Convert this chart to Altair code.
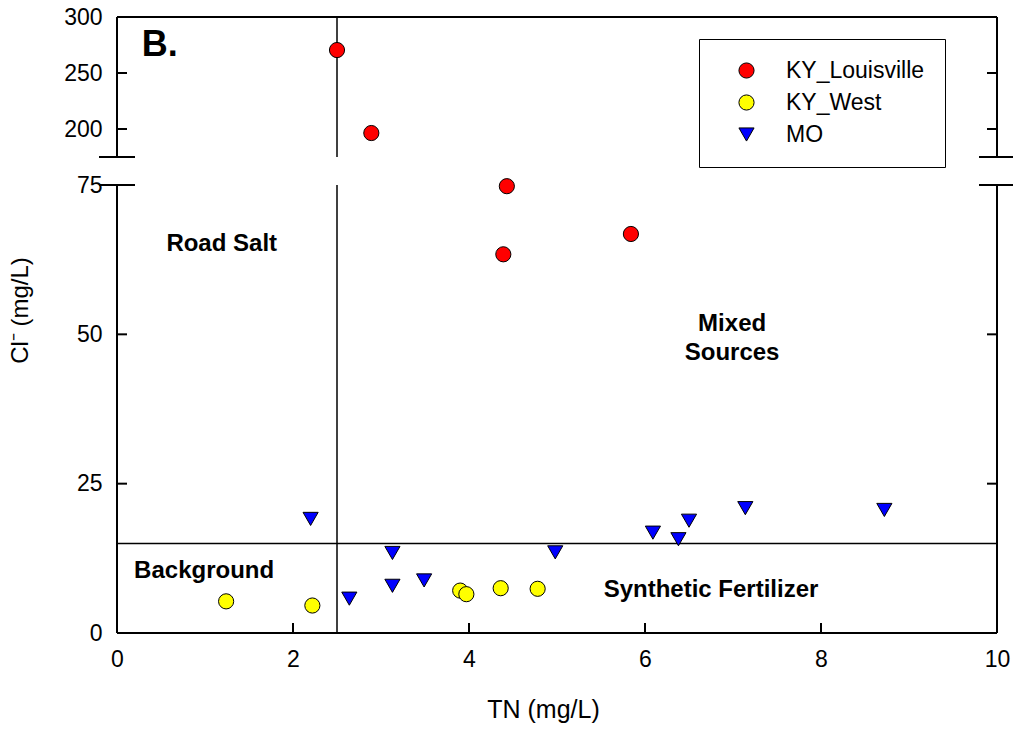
import altair as alt
import pandas as pd

# --- series -------------------------------------------------------------
sites = ["KY_Louisville", "KY_West", "MO"]
site_fill = ["#ff0000", "#ffff00", "#0000ff"]
site_shape = ["circle", "circle", "triangle-down"]

louisville_tn = [2.50, 2.89, 4.43, 4.39, 5.84]
louisville_cl = [270.5, 196.4, 74.8, 63.4, 66.8]

west_tn = [1.24, 2.22, 3.90, 3.97, 4.36, 4.78]
west_cl = [5.3, 4.6, 7.1, 6.5, 7.5, 7.4]

mo_tn = [2.20, 3.13, 3.13, 3.49, 2.64, 4.98, 6.09, 6.38, 6.50, 7.14, 8.72]
mo_cl = [19.1, 13.4, 7.9, 8.8, 5.75, 13.5, 16.8, 15.7, 18.8, 20.9, 20.6]

# --- axes ---------------------------------------------------------------
x_ticks = [0, 2, 4, 6, 8, 10]
y_ticks = [0, 25, 50, 75, 200, 250, 300]
y_inner_ticks = [25, 50, 200, 250]
x_inner_ticks = [2, 4, 6, 8]
# broken y axis: lower segment 0-75, upper segment 175-300
y_break_low, y_break_high = 75, 175

# threshold lines separating the source quadrants
tn_threshold = 2.5
cl_threshold = 15

# --- annotations ----------------------------------------------------------
region_text = ["Road Salt", ["Mixed", "Sources"], "Background", "Synthetic Fertilizer"]
region_tn = [1.19, 6.99, 0.99, 6.75]
region_cl = [65.1, 51.8, 10.4, 7.2]
panel_tag = "B."
panel_tag_tn = 0.28
panel_tag_cl = 275

FONT = "Liberation Sans"

rows = []
for name, tns, cls in [("KY_Louisville", louisville_tn, louisville_cl),
                       ("KY_West", west_tn, west_cl),
                       ("MO", mo_tn, mo_cl)]:
    for t, c in zip(tns, cls):
        rows.append({"site": name, "tn": t, "cl": c})
points_df = pd.DataFrame(rows)

x_scale = alt.Scale(domain=[0, 10], nice=False, zero=False)
y_scale = alt.Scale(domain=[0, y_break_low, y_break_high, 300],
                    range=[616, 168, 140, 0], nice=False, zero=False)

x_axis = alt.Axis(values=x_ticks, ticks=False, domain=False, grid=False,
                  labelFlush=False, title="TN (mg/L)", labelPadding=15,
                  titlePadding=26, titleX=426, labelFontSize=23,
                  titleFontSize=25, labelFont=FONT, titleFont=FONT,
                  labelColor="black", titleColor="black",
                  titleFontWeight="normal")
y_axis = alt.Axis(values=y_ticks, ticks=False, domain=False, grid=False,
                  labelFlush=False, title="Cl⁻ (mg/L)", labelPadding=15,
                  titlePadding=31, titleY=293, labelFontSize=23,
                  titleFontSize=24, labelFont=FONT, titleFont=FONT,
                  labelColor="black", titleColor="black",
                  titleFontWeight="normal")


def X(field):
    return alt.X(field, type="quantitative", scale=x_scale, axis=x_axis)


def Y(field):
    return alt.Y(field, type="quantitative", scale=y_scale, axis=y_axis)


# frame, broken at the axis gap, plus the two threshold lines
frame_df = pd.DataFrame({
    "x1": [0, 0, 10, 10, 0, 0],
    "x2": [0, 0, 10, 10, 10, 10],
    "y1": [0, y_break_high, 0, y_break_high, 0, 300],
    "y2": [y_break_low, 300, y_break_low, 300, 0, 300],
})
threshold_df = pd.DataFrame({
    "x1": [tn_threshold, tn_threshold, 0],
    "x2": [tn_threshold, tn_threshold, 10],
    "y1": [0, y_break_high, cl_threshold],
    "y2": [y_break_low, 300, cl_threshold],
})

frame = alt.Chart(frame_df).mark_rule(color="black", strokeWidth=2).encode(
    x=X("x1"), x2="x2", y=Y("y1"), y2="y2")
thresholds = alt.Chart(threshold_df).mark_rule(color="black", strokeWidth=1.5).encode(
    x=X("x1"), x2="x2", y=Y("y1"), y2="y2")

break_df = pd.DataFrame({"bx": [0, 0, 10, 10],
                         "by": [y_break_low, y_break_high, y_break_low, y_break_high]})
breaks = alt.Chart(break_df).mark_tick(orient="horizontal", size=36, thickness=2,
                                       color="black", opacity=1).encode(
    x=X("bx"), y=Y("by"))

left_df = pd.DataFrame({"tx": [0] * len(y_inner_ticks), "ty": y_inner_ticks})
right_df = pd.DataFrame({"tx": [10] * len(y_inner_ticks), "ty": y_inner_ticks})
bottom_df = pd.DataFrame({"tx": x_inner_ticks, "ty": [0] * len(x_inner_ticks)})

left_ticks = alt.Chart(left_df).mark_tick(orient="horizontal", size=10, thickness=2,
                                          xOffset=5, color="black", opacity=1).encode(
    x=X("tx"), y=Y("ty"))
right_ticks = alt.Chart(right_df).mark_tick(orient="horizontal", size=10, thickness=2,
                                            xOffset=-5, color="black", opacity=1).encode(
    x=X("tx"), y=Y("ty"))
bottom_ticks = alt.Chart(bottom_df).mark_tick(orient="vertical", size=10, thickness=2,
                                              yOffset=-5, color="black", opacity=1).encode(
    x=X("tx"), y=Y("ty"))

legend = alt.Legend(orient="none", legendX=582, legendY=22, padding=20,
                    symbolOffset=16, labelOffset=28, rowPadding=8,
                    strokeColor="black", labelFont=FONT, labelFontSize=23,
                    labelColor="black", symbolSize=230,
                    symbolStrokeWidth=1, symbolOpacity=1, labelLimit=300)

# outlined, filled symbols; the constant stroke channel carries the black
# outline into the legend entries as well
points = alt.Chart(points_df).mark_point(filled=True, strokeWidth=1, opacity=1,
                                         size=230).encode(
    x=X("tn"), y=Y("cl"),
    fill=alt.Fill("site:N", scale=alt.Scale(domain=sites, range=site_fill),
                  legend=legend, title=None),
    shape=alt.Shape("site:N", scale=alt.Scale(domain=sites, range=site_shape),
                    legend=legend, title=None),
    stroke=alt.value("black"),
)

region_df = pd.DataFrame({"label": region_text, "tn": region_tn, "cl": region_cl})
regions = alt.Chart(region_df).mark_text(font=FONT, fontSize=24, fontWeight="bold",
                                         color="black", lineHeight=29).encode(
    x=X("tn"), y=Y("cl"), text="label")

tag_df = pd.DataFrame({"label": [panel_tag], "tn": [panel_tag_tn], "cl": [panel_tag_cl]})
tag = alt.Chart(tag_df).mark_text(font=FONT, fontSize=36, fontWeight="bold",
                                  color="black", align="left").encode(
    x=X("tn"), y=Y("cl"), text="label")

chart = alt.layer(
    thresholds, frame, breaks, left_ticks, right_ticks, bottom_ticks,
    regions, tag, points,
).properties(
    width=880, height=616,
    autosize=alt.AutoSizeParams(type="none"),
    padding={"left": 117, "top": 17, "right": 16, "bottom": 96},
    background="white",
).configure_view(stroke="transparent")

chart.save("out.html", embed_options={"renderer": "svg", "actions": False})
